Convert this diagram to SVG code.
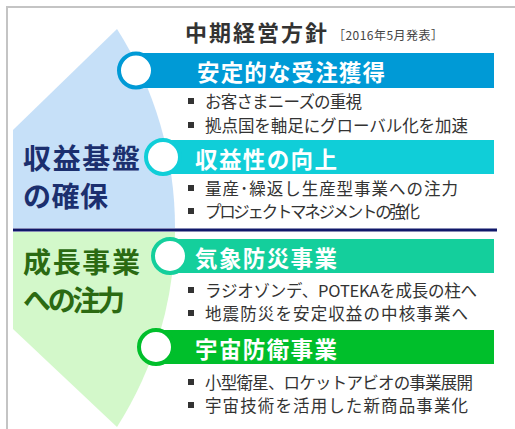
<svg xmlns="http://www.w3.org/2000/svg" width="515" height="429" viewBox="0 0 515 429">
<style>
text{font-family:"Noto Sans CJK JP","Noto Sans",sans-serif}
.ttl{font-size:22px;font-weight:700;fill:#333}
.sub{font-size:12px;fill:#444}
.bar{font-size:22.5px;font-weight:700;fill:#fff}
.li{font-size:16.5px;fill:#333}
.big{font-size:28px;font-weight:700}
.ring{fill:#fff;stroke-width:4}
</style>
<rect x="0" y="0" width="515" height="429" fill="#fff"/>
<path d="M7,429 V7 H515" fill="none" stroke="#c4c4c4" stroke-width="2"/>
<g id="regions">
<path d="M13,130 L117,29 A370,370 0 0 1 175,228 L13,228 Z" fill="#c6e0f8"/>
<path d="M13,232 L175,232 A370,370 0 0 1 117,427 L13,329 Z" fill="#d3f8ca"/>
<line x1="13" y1="230" x2="497" y2="230" stroke="#10186a" stroke-width="3"/>
</g>
<g id="title">
<text class="ttl" x="185" y="31" dominant-baseline="central" textLength="142">中期経営方針</text>
<text class="sub" x="333" y="34" dominant-baseline="central" textLength="110">［2016年5月発表］</text>
</g>
<g id="label-top">
<text class="big" x="23" y="157" dominant-baseline="central" fill="#1b2f6e" textLength="117">収益基盤</text>
<text class="big" x="23" y="195" dominant-baseline="central" fill="#1b2f6e" textLength="85">の確保</text>
</g>
<g id="label-bottom">
<text class="big" x="23" y="261" dominant-baseline="central" fill="#2b6a12" textLength="117">成長事業</text>
<text class="big" x="23" y="299" dominant-baseline="central" fill="#2b6a12" textLength="102">への注力</text>
</g>
<g id="node1">
<rect x="136" y="53" width="358" height="35" fill="#009ad6"/>
<circle class="ring" cx="136" cy="70.5" r="17" stroke="#009ad6"/>
<text class="bar" x="197" y="71" dominant-baseline="central" textLength="188">安定的な受注獲得</text>
<rect x="188" y="98" width="6" height="6" fill="#333"/>
<text class="li" x="205" y="101" dominant-baseline="central" textLength="157">お客さまニーズの重視</text>
<rect x="188" y="122" width="6" height="6" fill="#333"/>
<text class="li" x="205" y="125" dominant-baseline="central" textLength="263">拠点国を軸足にグローバル化を加速</text>
</g>
<g id="node2">
<rect x="163" y="140" width="331" height="34" fill="#10ced8"/>
<circle class="ring" cx="163" cy="157" r="17" stroke="#10ced8"/>
<text class="bar" x="195" y="157.5" dominant-baseline="central" textLength="142">収益性の向上</text>
<rect x="188" y="185" width="6" height="6" fill="#333"/>
<text class="li" x="205" y="188" dominant-baseline="central" textLength="253">量産･繰返し生産型事業への注力</text>
<rect x="188" y="208" width="6" height="6" fill="#333"/>
<text class="li" x="205" y="211" dominant-baseline="central" textLength="215">プロジェクトマネジメントの強化</text>
</g>
<g id="node3">
<rect x="170" y="239" width="324" height="34" fill="#14cf9c"/>
<circle class="ring" cx="170" cy="256" r="17" stroke="#14cf9c"/>
<text class="bar" x="195" y="256.5" dominant-baseline="central" textLength="142">気象防災事業</text>
<rect x="188" y="287" width="6" height="6" fill="#333"/>
<text class="li" x="205" y="290" dominant-baseline="central" textLength="272">ラジオゾンデ、POTEKAを成長の柱へ</text>
<rect x="188" y="310" width="6" height="6" fill="#333"/>
<text class="li" x="205" y="313" dominant-baseline="central" textLength="263">地震防災を安定収益の中核事業へ</text>
</g>
<g id="node4">
<rect x="156" y="330" width="338" height="34" fill="#00bf2b"/>
<circle class="ring" cx="156" cy="347" r="17" stroke="#00bf2b"/>
<text class="bar" x="195" y="347.5" dominant-baseline="central" textLength="142">宇宙防衛事業</text>
<rect x="188" y="379" width="6" height="6" fill="#333"/>
<text class="li" x="205" y="382" dominant-baseline="central" textLength="268">小型衛星、ロケットアビオの事業展開</text>
<rect x="188" y="402" width="6" height="6" fill="#333"/>
<text class="li" x="205" y="405" dominant-baseline="central" textLength="263">宇宙技術を活用した新商品事業化</text>
</g>
<g id="connectors"></g>
</svg>
